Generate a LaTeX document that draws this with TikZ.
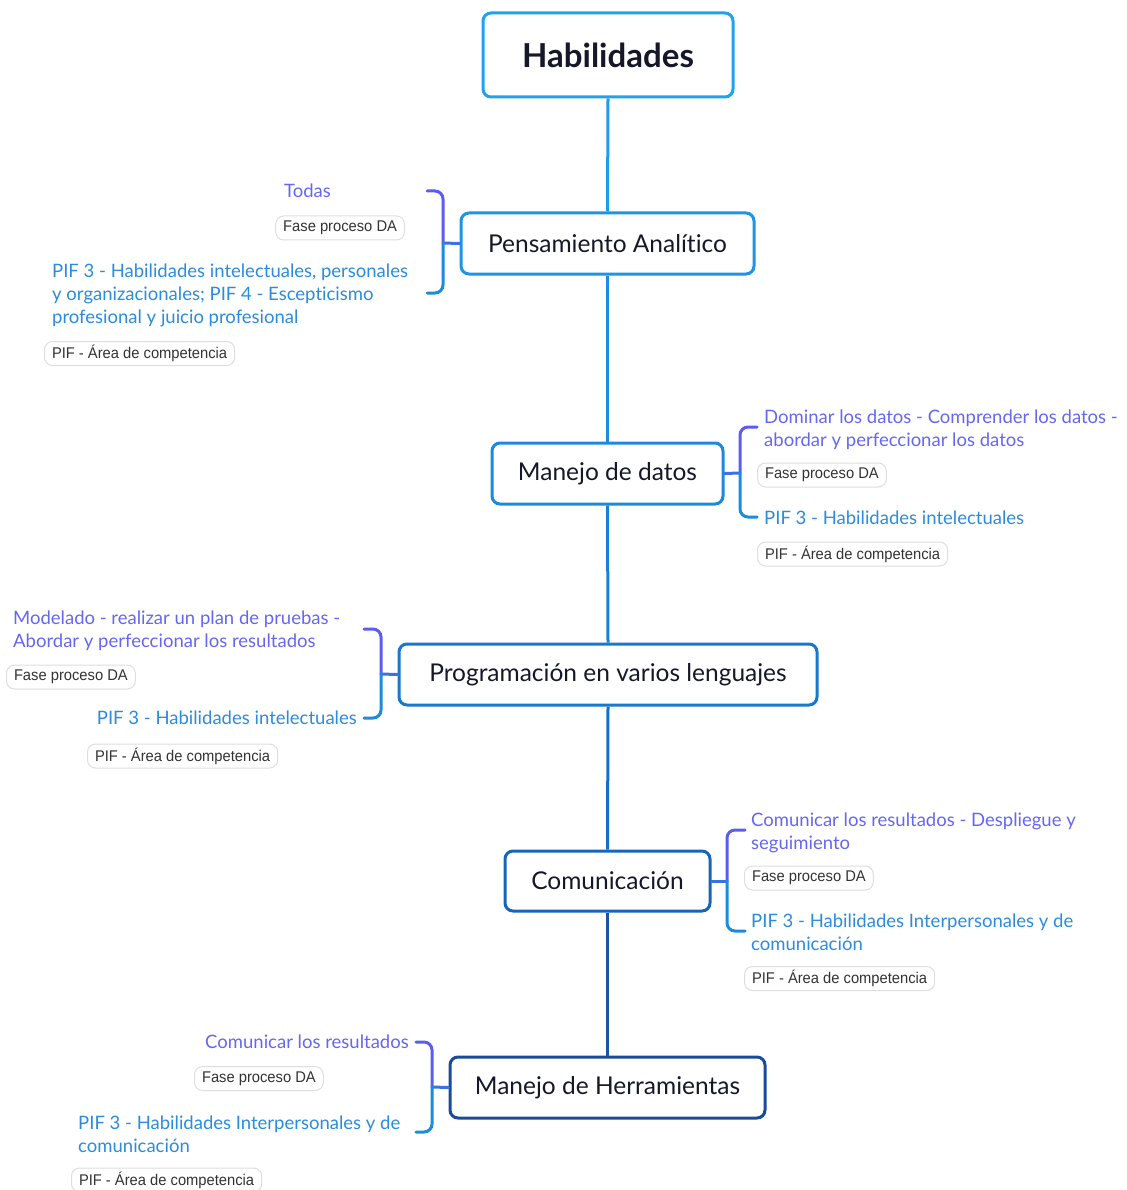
\documentclass[tikz,border=0pt]{standalone}
\usepackage{fontspec}
\setmainfont{Lato}[Ligatures=NoCommon]
\newfontfamily\tagfont[FakeStretch=0.95]{Liberation Sans}
\begin{document}
\definecolor{spineA}{HTML}{1E9CEC}
\definecolor{spineB}{HTML}{1B8DE0}
\definecolor{spineC}{HTML}{1880D5}
\definecolor{spineD}{HTML}{1570C5}
\definecolor{spineE}{HTML}{1A55A5}
\definecolor{rootc}{HTML}{20A2F0}
\definecolor{boxB}{HTML}{1E94E6}
\definecolor{boxC}{HTML}{1B8ADD}
\definecolor{boxD}{HTML}{1878CC}
\definecolor{boxE}{HTML}{1566B8}
\definecolor{boxF}{HTML}{1A4B9A}
\definecolor{brtopc}{HTML}{5B5CF2}
\definecolor{brmidc}{HTML}{3A72E6}
\definecolor{brbotc}{HTML}{1A8CDC}
\definecolor{purpletext}{HTML}{6467EF}
\definecolor{bluetext}{HTML}{2A8CDB}
\definecolor{darktext}{HTML}{16182A}
\definecolor{tagtext}{HTML}{333333}
\definecolor{tagline}{HTML}{DEDEDE}
\begin{tikzpicture}[x=1pt,y=-1pt,
  topic/.style={draw, line width=3pt, rounded corners=8pt, fill=white,
    text=darktext, font=\fontsize{24.5}{28}\selectfont, inner sep=0pt},
  roottopic/.style={topic, font=\bfseries\fontsize{33}{36}\selectfont},
  tagbox/.style={draw=tagline, line width=1pt, rounded corners=8pt, fill=white,
    text=tagtext, font=\tagfont\fontsize{15.5}{17}\selectfont,
    inner xsep=7.5pt, minimum height=24pt, inner ysep=0pt},
  ptxt/.style={text=purpletext, font=\fontsize{18.5}{23}\selectfont, inner sep=0pt, align=left},
  btxt/.style={text=bluetext, font=\fontsize{18.5}{23}\selectfont, inner sep=0pt, align=left},
  spine/.style={line width=3pt},
  brace/.style={line width=3pt, rounded corners=8pt, line cap=round},
]
\useasboundingbox (0,0) rectangle (1126,1190);

% main topics along the vertical spine
\node[roottopic, draw=rootc, minimum width=250pt, minimum height=84pt] (root) at (608,55) {Habilidades};
\node[topic, draw=boxB, minimum width=293pt, minimum height=61pt] (pa) at (607.5,243.5) {Pensamiento Analítico};
\node[topic, draw=boxC, minimum width=231pt, minimum height=61pt] (md) at (607.5,473.5) {Manejo de datos};
\node[topic, draw=boxD, minimum width=418pt, minimum height=61pt] (pv) at (608,674.5) {Programación en varios lenguajes};
\node[topic, draw=boxE, minimum width=205pt, minimum height=60pt] (co) at (607.5,881) {Comunicación};
\node[topic, draw=boxF, minimum width=315pt, minimum height=61pt] (mh) at (607.5,1087.5) {Manejo de Herramientas};

% spine connectors
\draw[spine, spineA] (root.south) -- (pa.north);
\draw[spine, spineB] (pa.south) -- (md.north);
\draw[spine, spineC] (md.south) -- (pv.north);
\draw[spine, spineD] (pv.south) -- (co.north);
\draw[spine, spineE] (co.south) -- (mh.north);

% --- Pensamiento Analítico (left side)
\node[ptxt, anchor=east] (pa-t1) at (331,191) {Todas};
\node[tagbox, anchor=east] (pa-g1) at (405,228) {Fase proceso DA};
\node[btxt, anchor=north west] (pa-t2) at (52,264) {PIF 3 - Habilidades intelectuales, personales\\y organizacionales; PIF 4 - Escepticismo\\profesional y juicio profesional};
\node[tagbox, anchor=west] (pa-g2) at (44,353.5) {PIF - Área de competencia};
\coordinate (pa-j) at (443,243);
\coordinate (pa-a) at (427,191);
\coordinate (pa-b) at (427,293);
\draw[brace, brmidc] (pa.west) -- (pa-j);
\draw[brace, brtopc] (pa-a) -| (pa-j);
\draw[brace, brbotc] (pa-j) |- (pa-b);

% --- Manejo de datos (right side)
\node[ptxt, anchor=north west] (md-t1) at (764,410) {Dominar los datos - Comprender los datos -\\abordar y perfeccionar los datos};
\node[tagbox, anchor=west] (md-g1) at (757,475) {Fase proceso DA};
\node[btxt, anchor=west] (md-t2) at (764,518) {PIF 3 - Habilidades intelectuales};
\node[tagbox, anchor=west] (md-g2) at (757,554) {PIF - Área de competencia};
\coordinate (md-j) at (740,473);
\coordinate (md-a) at (757,427);
\coordinate (md-b) at (757,517);
\draw[brace, brmidc] (md.east) -- (md-j);
\draw[brace, brtopc] (md-a) -| (md-j);
\draw[brace, brbotc] (md-j) |- (md-b);

% --- Programación en varios lenguajes (left side)
\node[ptxt, anchor=north west] (pv-t1) at (13,611) {Modelado - realizar un plan de pruebas -\\Abordar y perfeccionar los resultados};
\node[tagbox, anchor=west] (pv-g1) at (6,677) {Fase proceso DA};
\node[btxt, anchor=east] (pv-t2) at (357,718) {PIF 3 - Habilidades intelectuales};
\node[tagbox, anchor=west] (pv-g2) at (87,756) {PIF - Área de competencia};
\coordinate (pv-j) at (381,674);
\coordinate (pv-a) at (364,629);
\coordinate (pv-b) at (364,718);
\draw[brace, brmidc] (pv.west) -- (pv-j);
\draw[brace, brtopc] (pv-a) -| (pv-j);
\draw[brace, brbotc] (pv-j) |- (pv-b);

% --- Comunicación (right side)
\node[ptxt, anchor=north west] (co-t1) at (751,813) {Comunicar los resultados - Despliegue y\\seguimiento};
\node[tagbox, anchor=west] (co-g1) at (744,878) {Fase proceso DA};
\node[btxt, anchor=north west] (co-t2) at (751,914) {PIF 3 - Habilidades Interpersonales y de\\comunicación};
\node[tagbox, anchor=west] (co-g2) at (744,978.5) {PIF - Área de competencia};
\coordinate (co-j) at (727,881);
\coordinate (co-a) at (745,830);
\coordinate (co-b) at (745,931);
\draw[brace, brmidc] (co.east) -- (co-j);
\draw[brace, brtopc] (co-a) -| (co-j);
\draw[brace, brbotc] (co-j) |- (co-b);

% --- Manejo de Herramientas (left side)
\node[ptxt, anchor=east] (mh-t1) at (409,1042) {Comunicar los resultados};
\node[tagbox, anchor=west] (mh-g1) at (194,1078.5) {Fase proceso DA};
\node[btxt, anchor=north west] (mh-t2) at (78,1116) {PIF 3 - Habilidades Interpersonales y de\\comunicación};
\node[tagbox, anchor=west] (mh-g2) at (71,1180) {PIF - Área de competencia};
\coordinate (mh-j) at (432,1087);
\coordinate (mh-a) at (416,1042);
\coordinate (mh-b) at (416,1132);
\draw[brace, brmidc] (mh.west) -- (mh-j);
\draw[brace, brtopc] (mh-a) -| (mh-j);
\draw[brace, brbotc] (mh-j) |- (mh-b);
\end{tikzpicture}
\end{document}
